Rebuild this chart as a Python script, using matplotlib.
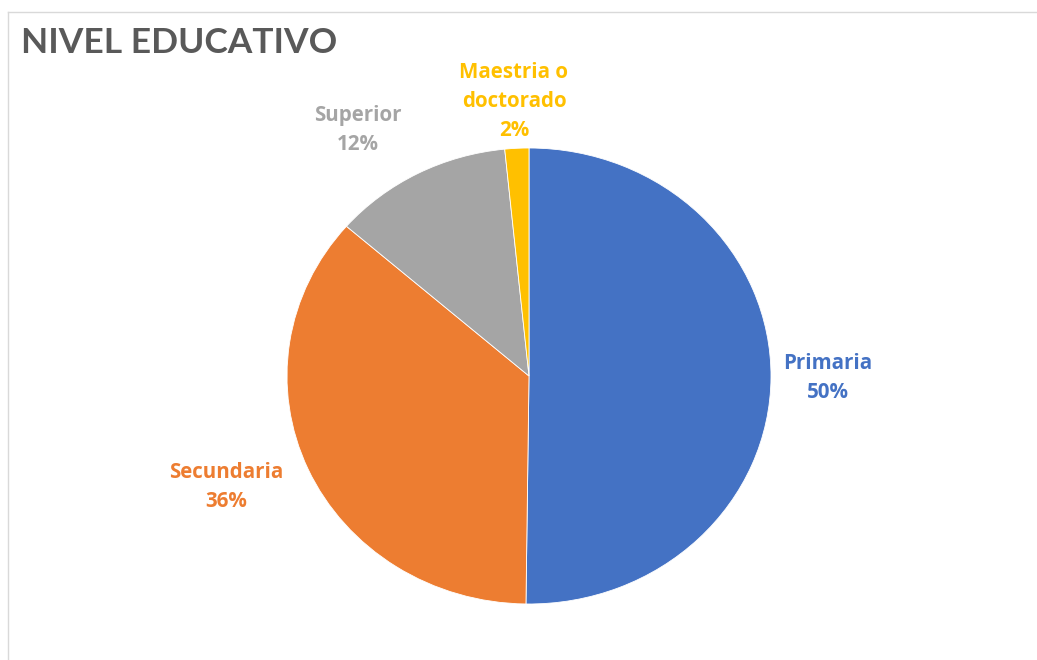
import numpy as np
import matplotlib.pyplot as plt
from matplotlib.lines import Line2D

plt.rcParams['font.family'] = ['Lato', 'DejaVu Sans']

# datos
categorias = ['Primaria', 'Secundaria', 'Superior', 'Maestria o\ndoctorado']
valores = [50.2, 36.2, 12.0, 1.6]
colores = ['#4472C4', '#ED7D31', '#A5A5A5', '#FFC000']
# posiciones de etiquetas (coordenadas del eje)
pos_etiquetas = [(1.236, -0.01), (-1.252, -0.487), (-0.707, 1.079), (-0.062, 1.206)]

W, H = 1037, 660
fig = plt.figure(figsize=(W / 100, H / 100), dpi=100)

# marco del grafico
fig.add_artist(Line2D([8 / W, 1.0], [1 - 12 / H, 1 - 12 / H], color='#D9D9D9', lw=1))
fig.add_artist(Line2D([8 / W, 8 / W], [0, 1 - 12 / H], color='#D9D9D9', lw=1))

cx, cy, rx, ry = 529, 376, 242, 228
ax = fig.add_axes([(cx - rx) / W, (H - cy - ry) / H, 2 * rx / W, 2 * ry / H])
ax.pie(valores, colors=colores, startangle=90, counterclock=False,
       wedgeprops=dict(edgecolor='white', linewidth=0.6))
ax.set_aspect('auto')
ax.set_xlim(-1, 1)
ax.set_ylim(-1, 1)
ax.axis('off')

total = sum(valores)
for cat, v, c, (x, y) in zip(categorias, valores, colores, pos_etiquetas):
    pct = int(v / total * 100 + 0.5)
    txt = '%s\n%d%%' % (cat, pct)
    ax.text(x, y, txt, color=c, fontsize=14.8, fontweight='bold', ha='center', va='center',
            linespacing=1.5, clip_on=False, family=['Open Sans', 'DejaVu Sans'])

fig.text(21 / W, 1 - 43 / H, 'NIVEL EDUCATIVO', fontsize=25.5, fontweight='bold',
         color='#595959', ha='left', va='center')

fig.savefig('out.png', dpi=100)
